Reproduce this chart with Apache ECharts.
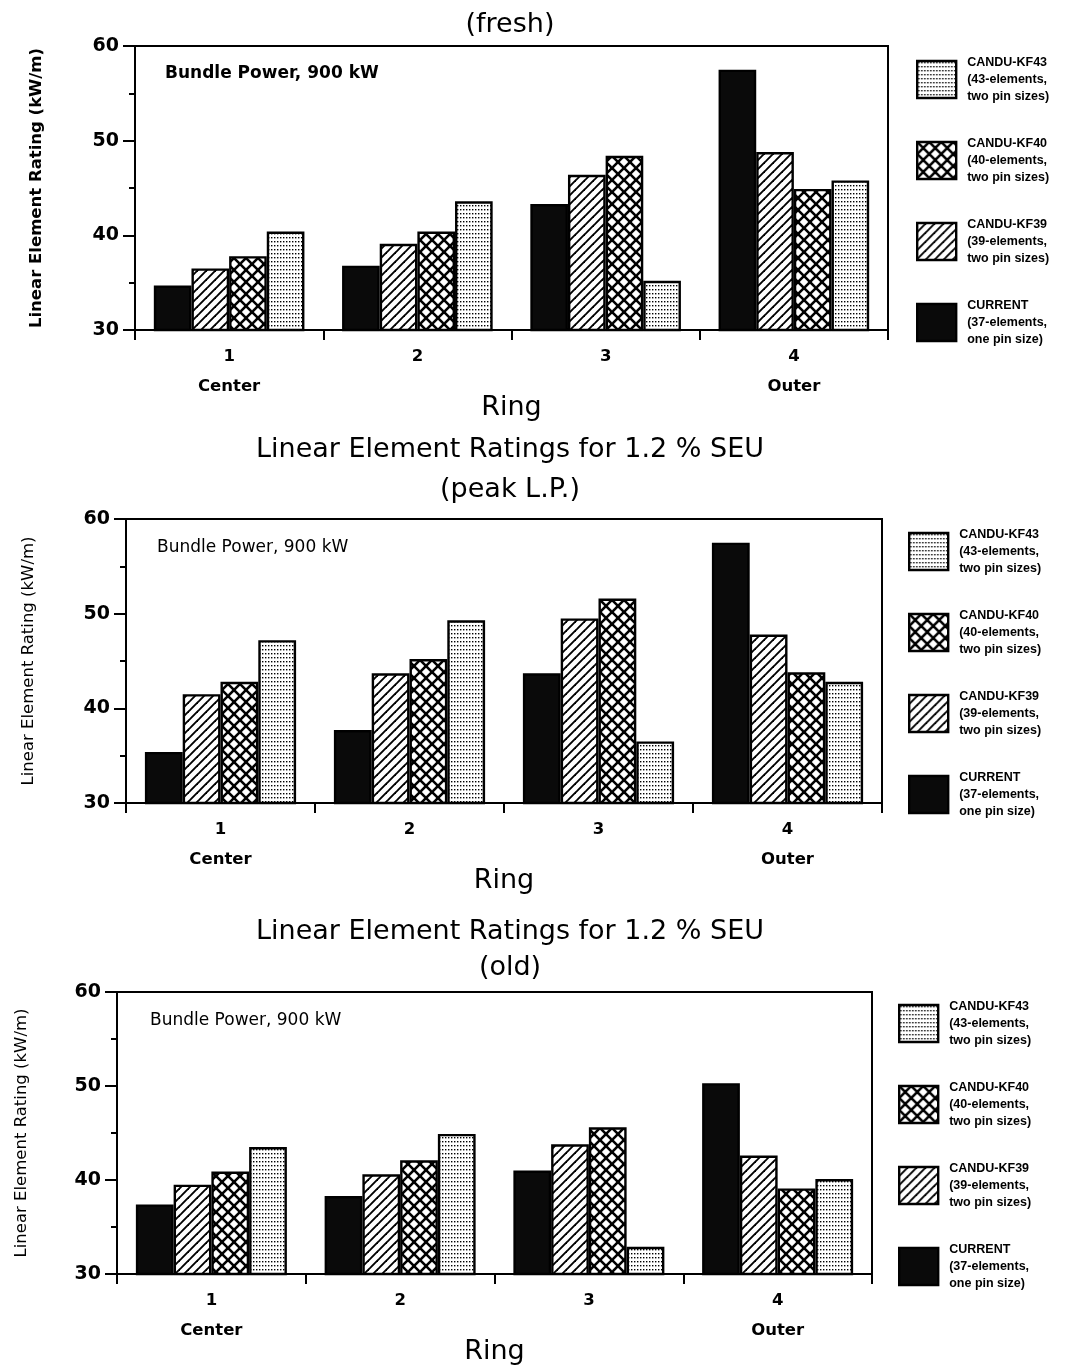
<!DOCTYPE html>
<html>
<head>
<meta charset="utf-8">
<script src="https://cdn.jsdelivr.net/npm/echarts@6/dist/echarts.min.js"></script>
<style>
html,body{margin:0;padding:0;background:#fff;}
#chart{width:1069px;height:1366px;}
</style>
</head>
<body>
<div id="chart"></div>
<script>
// ---------------- data ----------------
const rings = ['1', '2', '3', '4'];
const ringNotes = ['Center', '', '', 'Outer'];
const seriesNames = ['CURRENT', 'CANDU-KF39', 'CANDU-KF40', 'CANDU-KF43'];
const seriesNotes = ['(37-elements,\none pin size)', '(39-elements,\ntwo pin sizes)', '(40-elements,\ntwo pin sizes)', '(43-elements,\ntwo pin sizes)'];
const legendOrder = ['CANDU-KF43', 'CANDU-KF40', 'CANDU-KF39', 'CURRENT'];
const panelTitles = [
  ['(fresh)'],
  ['Linear Element Ratings for 1.2 % SEU', '(peak L.P.)'],
  ['Linear Element Ratings for 1.2 % SEU', '(old)']
];
const annotationText = 'Bundle Power, 900 kW';
const yAxisTitle = 'Linear Element Rating (kW/m)';
const xAxisTitle = 'Ring';
const yMin = 30, yMax = 60, yStep = 10;

// fresh
const freshCurrent = [34.7, 36.8, 43.3, 57.5];
const freshKF39    = [36.5, 39.1, 46.4, 48.8];
const freshKF40    = [37.8, 40.4, 48.4, 44.9];
const freshKF43    = [40.4, 43.6, 35.2, 45.8];
// peak L.P.
const peakCurrent = [35.4, 37.7, 43.7, 57.5];
const peakKF39    = [41.5, 43.7, 49.5, 47.8];
const peakKF40    = [42.8, 45.2, 51.6, 43.8];
const peakKF43    = [47.2, 49.3, 36.5, 42.8];
// old
const oldCurrent = [37.4, 38.3, 41.0, 50.3];
const oldKF39    = [39.5, 40.6, 43.8, 42.6];
const oldKF40    = [40.9, 42.1, 45.6, 39.1];
const oldKF43    = [43.5, 44.9, 32.9, 40.1];

const panelData = [
  [freshCurrent, freshKF39, freshKF40, freshKF43],
  [peakCurrent, peakKF39, peakKF40, peakKF43],
  [oldCurrent, oldKF39, oldKF40, oldKF43]
];

// ---------------- layout ----------------
const layout = [
  { left: 135, top: 46, right: 181, height: 284, titleY: [25], annX: 165, annY: 74, legLeft: 911, legTop: 49, yBold: true, nameGap: 90 },
  { left: 126, top: 519, right: 187, height: 284, titleY: [450, 490], annX: 157, annY: 548, legLeft: 903, legTop: 521, yBold: false, nameGap: 89 },
  { left: 117, top: 992, right: 197, height: 283, titleY: [932, 968], annX: 150, annY: 1021, legLeft: 893, legTop: 993, yBold: false, nameGap: 87 }
];

// ---------------- patterns ----------------
function tile(w, h, draw) {
  const c = document.createElement('canvas');
  c.width = w; c.height = h;
  const ctx = c.getContext('2d');
  ctx.fillStyle = '#fff';
  ctx.fillRect(0, 0, w, h);
  ctx.strokeStyle = '#000';
  ctx.fillStyle = '#000';
  draw(ctx, w, h);
  return { image: c, repeat: 'repeat' };
}
function diag(ctx, s, dir) {
  for (let k = -1; k <= 1; k++) {
    ctx.beginPath();
    if (dir > 0) { ctx.moveTo(k * s - 1, s + 1); ctx.lineTo(k * s + s + 1, -1); }
    else { ctx.moveTo(k * s - 1, -1); ctx.lineTo(k * s + s + 1, s + 1); }
    ctx.stroke();
  }
}
const hatchPattern = tile(9, 9, (ctx) => { ctx.lineWidth = 1.9; diag(ctx, 9, 1); });
const crossPattern = tile(12, 12, (ctx) => { ctx.lineWidth = 2.6; diag(ctx, 12, 1); diag(ctx, 12, -1); });
const dotPattern = tile(3, 4, (ctx) => { ctx.fillRect(1, 1, 1.4, 1.4); });
const fills = ['#0a0a0a', hatchPattern, crossPattern, dotPattern];

// ---------------- option ----------------
const FONT = '"DejaVu Sans", "Liberation Sans", sans-serif';
const grids = [], xAxes = [], yAxes = [], series = [], legends = [], graphics = [];

layout.forEach((L, p) => {
  grids.push({ left: L.left, top: L.top, right: L.right, height: L.height, show: true, borderColor: '#000', borderWidth: 2, containLabel: false });
  xAxes.push({
    type: 'category', gridIndex: p, data: rings,
    name: xAxisTitle, nameLocation: 'middle', nameGap: 64, nameMoveOverlap: false,
    nameTextStyle: { fontFamily: FONT, fontSize: 27, color: '#000' },
    axisLine: { lineStyle: { color: '#000', width: 2 } },
    axisTick: { show: true, length: 10, lineStyle: { color: '#000', width: 2 } },
    axisLabel: {
      margin: 12, lineHeight: 30, fontFamily: FONT, fontWeight: 'bold', fontSize: 16.5, color: '#000',
      formatter: (v, i) => ringNotes[i] ? v + '\n' + ringNotes[i] : v
    }
  });
  yAxes.push({
    type: 'value', gridIndex: p, min: yMin, max: yMax, interval: yStep,
    name: yAxisTitle, nameLocation: 'middle', nameGap: L.nameGap, nameMoveOverlap: false,
    nameTextStyle: { fontFamily: FONT, fontSize: 16.5, fontWeight: L.yBold ? 'bold' : 'normal', color: '#000' },
    axisLine: { show: true, lineStyle: { color: '#000', width: 2 } },
    axisTick: { show: true, length: 12, lineStyle: { color: '#000', width: 2 } },
    minorTick: { show: true, splitNumber: 2, length: 6, lineStyle: { color: '#000', width: 2 } },
    splitLine: { show: false },
    axisLabel: { margin: 16, fontFamily: FONT, fontWeight: 'bold', fontSize: 19, color: '#000' }
  });
  seriesNames.forEach((nm, s) => {
    series.push({
      type: 'bar', name: nm, xAxisIndex: p, yAxisIndex: p,
      data: panelData[p][s],
      barGap: '0%', barCategoryGap: '20%',
      itemStyle: { color: fills[s], borderColor: '#000', borderWidth: 2.4 },
      emphasis: { disabled: true },
      animation: false
    });
  });
  legends.push({
    orient: 'vertical', left: L.legLeft, top: L.legTop,
    data: legendOrder, icon: 'rect', itemWidth: 39, itemHeight: 37, itemGap: 30,
    selectedMode: false,
    itemStyle: { borderColor: '#000', borderWidth: 2.4 },
    formatter: (name) => name + '\n' + seriesNotes[seriesNames.indexOf(name)],
    textStyle: { fontFamily: '"Liberation Sans", Arial, sans-serif', fontWeight: 'bold', fontSize: 12.5, lineHeight: 17, color: '#000', padding: [0, 0, 0, 6] }
  });
  panelTitles[p].forEach((t, k) => {
    graphics.push({
      type: 'text', x: 510, y: L.titleY[k],
      style: { text: t, fill: '#000', font: '27px ' + FONT, textAlign: 'center', textVerticalAlign: 'middle' }
    });
  });
  graphics.push({
    type: 'text', x: L.annX, y: L.annY,
    style: { text: annotationText, fill: '#000', font: (p === 0 ? 'bold ' : '') + '17px ' + FONT, textAlign: 'left', textVerticalAlign: 'middle' }
  });
});

const chart = echarts.init(document.getElementById('chart'), null, { renderer: 'canvas' });
chart.setOption({
  backgroundColor: '#fff',
  animation: false,
  grid: grids,
  xAxis: xAxes,
  yAxis: yAxes,
  legend: legends,
  series: series,
  graphic: graphics
});
</script>
</body>
</html>
